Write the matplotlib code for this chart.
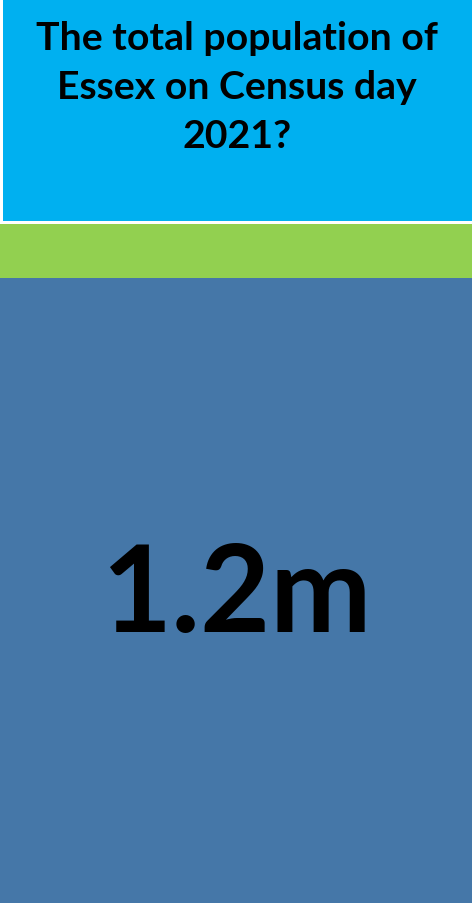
import matplotlib
matplotlib.use('Agg')
import matplotlib.pyplot as plt
from matplotlib.patches import Rectangle

title_lines = ["The total population of", "Essex on Census day", "2021?"]
answer = "1.2m"

W, H = 472, 904
fig = plt.figure(figsize=(W / 100, H / 100), dpi=100)
ax = fig.add_axes([0, 0, 1, 1])
ax.set_xlim(0, W)
ax.set_ylim(H, 0)
ax.axis('off')

# three coloured panels
ax.add_patch(Rectangle((3, 0), W - 3, 222, color='#00B0F0', lw=0))
ax.add_patch(Rectangle((0, 225), W, 54, color='#92D050', lw=0))
ax.add_patch(Rectangle((0, 279), W, H - 279, color='#4577A8', lw=0))

for i, line in enumerate(title_lines):
    ax.text(237, 39 + i * 48.5, line, ha='center', va='center', fontsize=28.3,
            fontweight='bold', family=['Lato', 'DejaVu Sans'], color='black')

ax.text(236, 597, answer, ha='center', va='center', fontsize=87,
        fontweight='bold', family=['Lato', 'DejaVu Sans'], color='black')

fig.savefig('out.png', dpi=100)
